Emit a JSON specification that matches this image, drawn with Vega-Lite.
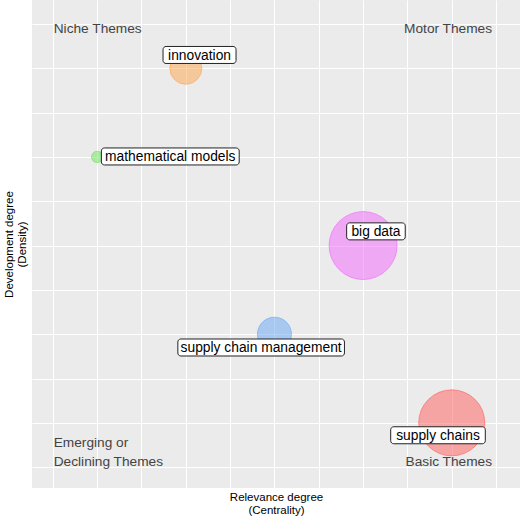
{
  "$schema": "https://vega.github.io/schema/vega-lite/v6.json",
  "width": 488,
  "height": 488,
  "autosize": "none",
  "padding": {"left": 32, "top": 0, "right": 0, "bottom": 32},
  "background": "white",
  "config": {
    "view": {"stroke": null, "fill": "#EBEBEB"},
    "font": "Liberation Sans"
  },
  "datasets": {
    "themes": [
      {"theme": "innovation", "centrality": 3, "density": 9, "freq": 8, "lx": 3.31, "ly": 9.30},
      {"theme": "mathematical models", "centrality": 1, "density": 7, "freq": 1, "lx": 2.65, "ly": 7.01},
      {"theme": "big data", "centrality": 7, "density": 5, "freq": 36, "lx": 7.29, "ly": 5.32},
      {"theme": "supply chain management", "centrality": 5, "density": 3, "freq": 9, "lx": 4.70, "ly": 2.70},
      {"theme": "supply chains", "centrality": 9, "density": 1, "freq": 34, "lx": 8.69, "ly": 0.72}
    ],
    "quadLeft": [
      {"label": "Niche Themes", "qx": 0.02, "qy": 9.89},
      {"label": "Emerging or\nDeclining Themes", "qx": 0.02, "qy": 0.54}
    ],
    "quadRight": [
      {"label": "Motor Themes", "qx": 9.91, "qy": 9.89},
      {"label": "Basic Themes", "qx": 9.91, "qy": 0.11}
    ]
  },
  "layer": [
    {
      "data": {"name": "themes"},
      "mark": {"type": "point", "filled": true, "fillOpacity": 0.5, "strokeOpacity": 0.6, "strokeWidth": 1},
      "encoding": {
        "x": {
          "field": "centrality", "type": "quantitative",
          "scale": {"domain": [-0.47, 10.54], "nice": false, "zero": false},
          "axis": {
            "values": [0, 1, 2, 3, 4, 5, 6, 7, 8, 9, 10],
            "grid": true, "gridColor": "white", "gridWidth": 1,
            "ticks": false, "labels": false, "domain": false,
            "title": ["Relevance degree", "(Centrality)"],
            "titleFontSize": 11.5, "titleFontWeight": "normal", "titleColor": "black",
            "titlePadding": 3, "titleLineHeight": 13
          }
        },
        "y": {
          "field": "density", "type": "quantitative",
          "scale": {"domain": [-0.47, 10.54], "nice": false, "zero": false},
          "axis": {
            "values": [0, 1, 2, 3, 4, 5, 6, 7, 8, 9, 10],
            "grid": true, "gridColor": "white", "gridWidth": 1,
            "ticks": false, "labels": false, "domain": false,
            "title": ["Development degree", "(Density)"],
            "titleFontSize": 11.5, "titleFontWeight": "normal", "titleColor": "black",
            "titlePadding": 5, "titleLineHeight": 13
          }
        },
        "size": {
          "field": "freq", "type": "quantitative",
          "scale": {"domain": [0, 36], "range": [0, 4624]},
          "legend": null
        },
        "fill": {
          "field": "theme", "type": "nominal",
          "scale": {
            "domain": ["innovation", "mathematical models", "big data", "supply chain management", "supply chains"],
            "range": ["#FFA54B", "#65E555", "#F165FD", "#65A5F5", "#FF5B5B"]
          },
          "legend": null
        },
        "stroke": {
          "field": "theme", "type": "nominal",
          "scale": {
            "domain": ["innovation", "mathematical models", "big data", "supply chain management", "supply chains"],
            "range": ["#FFA54B", "#65E555", "#F165FD", "#65A5F5", "#FF5B5B"]
          },
          "legend": null
        }
      }
    },
    {
      "mark": {"type": "rule", "strokeDash": [4, 3], "color": "black", "strokeWidth": 1},
      "encoding": {"x": {"datum": 5}}
    },
    {
      "mark": {"type": "rule", "strokeDash": [4, 3], "color": "black", "strokeWidth": 1},
      "encoding": {"y": {"datum": 5}}
    },
    {
      "data": {"name": "themes"},
      "mark": {
        "type": "rect", "fill": "white", "stroke": "#222222", "strokeWidth": 1,
        "cornerRadius": 3,
        "width": {"expr": "length(datum.theme) * 7.2 + 1"},
        "height": 17
      },
      "encoding": {
        "x": {"field": "lx", "type": "quantitative"},
        "y": {"field": "ly", "type": "quantitative"}
      }
    },
    {
      "data": {"name": "themes"},
      "mark": {"type": "text", "fontSize": 13.8, "color": "black", "align": "center", "baseline": "middle", "dy": 1},
      "encoding": {
        "x": {"field": "lx", "type": "quantitative"},
        "y": {"field": "ly", "type": "quantitative"},
        "text": {"field": "theme"}
      }
    },
    {
      "data": {"name": "quadLeft"},
      "mark": {"type": "text", "fontSize": 13.7, "color": "#444444", "align": "left", "baseline": "middle", "lineBreak": "\n", "lineHeight": 19},
      "encoding": {
        "x": {"field": "qx", "type": "quantitative"},
        "y": {"field": "qy", "type": "quantitative"},
        "text": {"field": "label"}
      }
    },
    {
      "data": {"name": "quadRight"},
      "mark": {"type": "text", "fontSize": 13.7, "color": "#444444", "align": "right", "baseline": "middle"},
      "encoding": {
        "x": {"field": "qx", "type": "quantitative"},
        "y": {"field": "qy", "type": "quantitative"},
        "text": {"field": "label"}
      }
    }
  ]
}
